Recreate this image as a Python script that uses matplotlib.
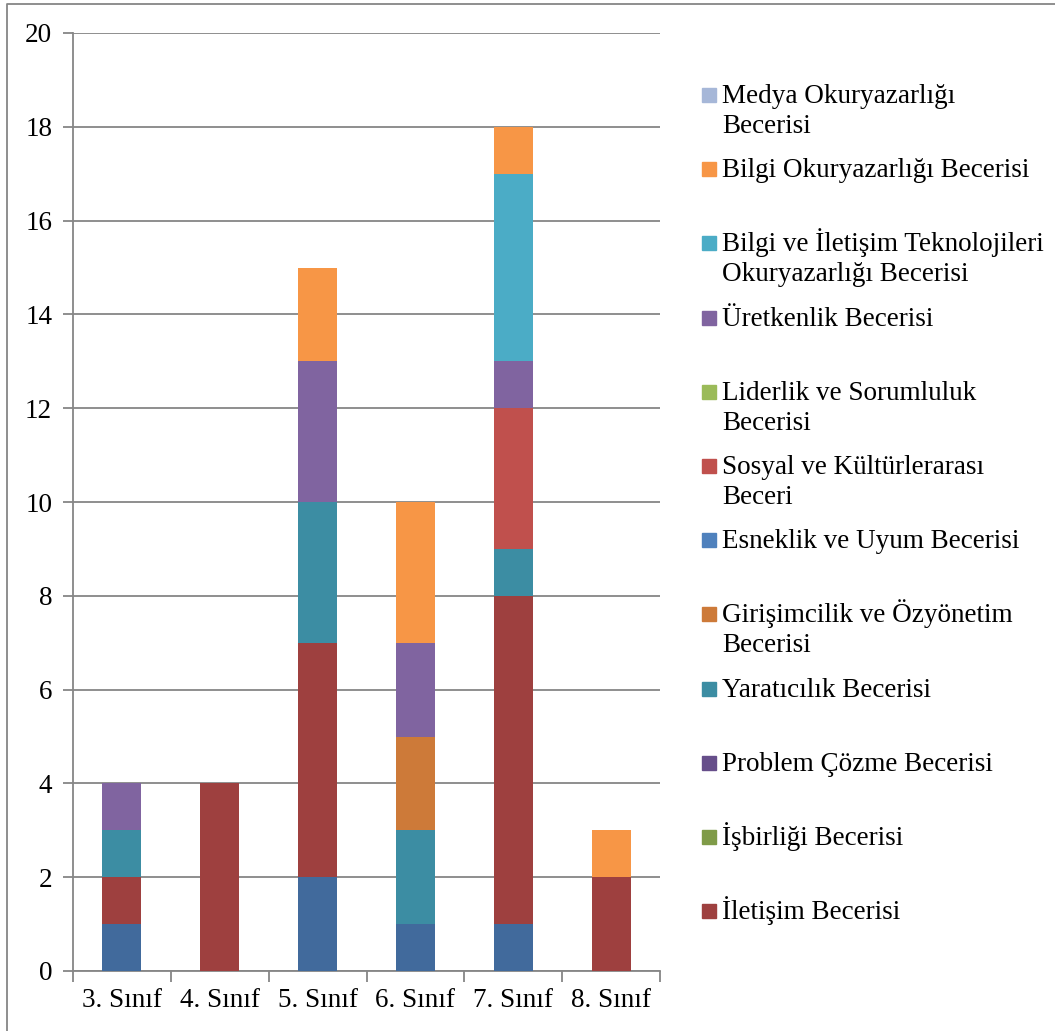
import numpy as np
import matplotlib
matplotlib.use('Agg')
import matplotlib.pyplot as plt
from matplotlib.patches import Rectangle
from matplotlib.lines import Line2D

plt.rcParams['font.family'] = ['Liberation Serif', 'DejaVu Serif']

grades = ['3. Sınıf', '4. Sınıf', '5. Sınıf', '6. Sınıf', '7. Sınıf', '8. Sınıf']

# series in stacking order (bottom first); the first one is cut off from the legend
series_names = ['Eleştirel Düşünme Becerisi',
                'İletişim Becerisi',
                'İşbirliği Becerisi',
                'Problem Çözme Becerisi',
                'Yaratıcılık Becerisi',
                'Girişimcilik ve Özyönetim Becerisi',
                'Esneklik ve Uyum Becerisi',
                'Sosyal ve Kültürlerarası Beceri',
                'Liderlik ve Sorumluluk Becerisi',
                'Üretkenlik Becerisi',
                'Bilgi ve İletişim Teknolojileri Okuryazarlığı Becerisi',
                'Bilgi Okuryazarlığı Becerisi',
                'Medya Okuryazarlığı Becerisi']

elestirel = [1, 0, 2, 1, 1, 0]
iletisim = [1, 4, 5, 0, 7, 2]
isbirligi = [0, 0, 0, 0, 0, 0]
problem = [0, 0, 0, 0, 0, 0]
yaraticilik = [1, 0, 3, 2, 1, 0]
girisimcilik = [0, 0, 0, 2, 0, 0]
esneklik = [0, 0, 0, 0, 0, 0]
sosyal = [0, 0, 0, 0, 3, 0]
liderlik = [0, 0, 0, 0, 0, 0]
uretkenlik = [1, 0, 3, 2, 1, 0]
bit = [0, 0, 0, 0, 4, 0]
bilgi = [0, 0, 2, 3, 1, 1]
medya = [0, 0, 0, 0, 0, 0]

values = [elestirel, iletisim, isbirligi, problem, yaraticilik, girisimcilik,
          esneklik, sosyal, liderlik, uretkenlik, bit, bilgi, medya]

colors = ['#416A9C', '#9E403F', '#7F9B48', '#664E8A', '#3C8DA3', '#CD7A39',
          '#4F81BD', '#C0504D', '#9BBB59', '#8064A0', '#4BACC6', '#F79646', '#A6B7D8']

# legend text as wrapped in the picture (top entry = last series)
legend_labels = {12: 'Medya Okuryazarlığı\nBecerisi',
                 11: 'Bilgi Okuryazarlığı Becerisi',
                 10: 'Bilgi ve İletişim Teknolojileri\nOkuryazarlığı Becerisi',
                 9: 'Üretkenlik Becerisi',
                 8: 'Liderlik ve Sorumluluk\nBecerisi',
                 7: 'Sosyal ve Kültürlerarası\nBeceri',
                 6: 'Esneklik ve Uyum Becerisi',
                 5: 'Girişimcilik ve Özyönetim\nBecerisi',
                 4: 'Yaratıcılık Becerisi',
                 3: 'Problem Çözme Becerisi',
                 2: 'İşbirliği Becerisi',
                 1: 'İletişim Becerisi'}

W, H = 1055, 1031
fs = 19.5
fig = plt.figure(figsize=(W / 100, H / 100), dpi=100)
ax = fig.add_axes([73 / W, 1 - 971 / H, (660 - 73) / W, (971 - 33) / H])

grid_color = '#868686'
x = np.arange(len(grades))
bottom = np.zeros(len(grades))
for name, vals, col in zip(series_names, values, colors):
    vals = np.array(vals, dtype=float)
    ax.bar(x, vals, width=0.4, bottom=bottom, color=col, label=name,
           edgecolor='none', zorder=3)
    bottom += vals

ax.set_xlim(-0.5, len(grades) - 0.5)
ax.set_ylim(0, 20)
ax.set_yticks(np.arange(0, 21, 2))
ax.yaxis.grid(True, color=grid_color, linewidth=1.3, zorder=1)
ax.set_axisbelow(True)

ax.set_xticks(x)
ax.set_xticklabels(grades, fontsize=fs)
ax.tick_params(axis='x', length=0, pad=12)
ax.set_xticks(np.arange(-0.5, len(grades)), minor=True)
ax.tick_params(axis='x', which='minor', length=8, width=1.3, color=grid_color)
ax.tick_params(axis='y', length=7, width=1.3, color=grid_color, labelsize=fs, pad=8)

for side in ['top', 'right']:
    ax.spines[side].set_visible(False)
for side in ['left', 'bottom']:
    ax.spines[side].set_color(grid_color)
    ax.spines[side].set_linewidth(1.3)

# legend drawn by hand in fixed slots
first_baseline = 103
slot_step = 74.2
for i, idx in enumerate(range(12, 0, -1)):
    yb = first_baseline + slot_step * i
    fig.patches.append(Rectangle((702 / W, 1 - (yb - 1) / H), 14 / W, 14 / H,
                                 transform=fig.transFigure, color=colors[idx]))
    lines = legend_labels[idx].split('\n')
    for j, line in enumerate(lines):
        fig.text(722 / W, 1 - (yb + 30 * j) / H, line, fontsize=fs,
                 ha='left', va='baseline')

# outer chart border
fig.lines.append(Line2D([7 / W, 7 / W, 1.0], [0.0, 1 - 4 / H, 1 - 4 / H],
                        transform=fig.transFigure, color=grid_color, linewidth=1.3))

fig.savefig('out.png', dpi=100)
